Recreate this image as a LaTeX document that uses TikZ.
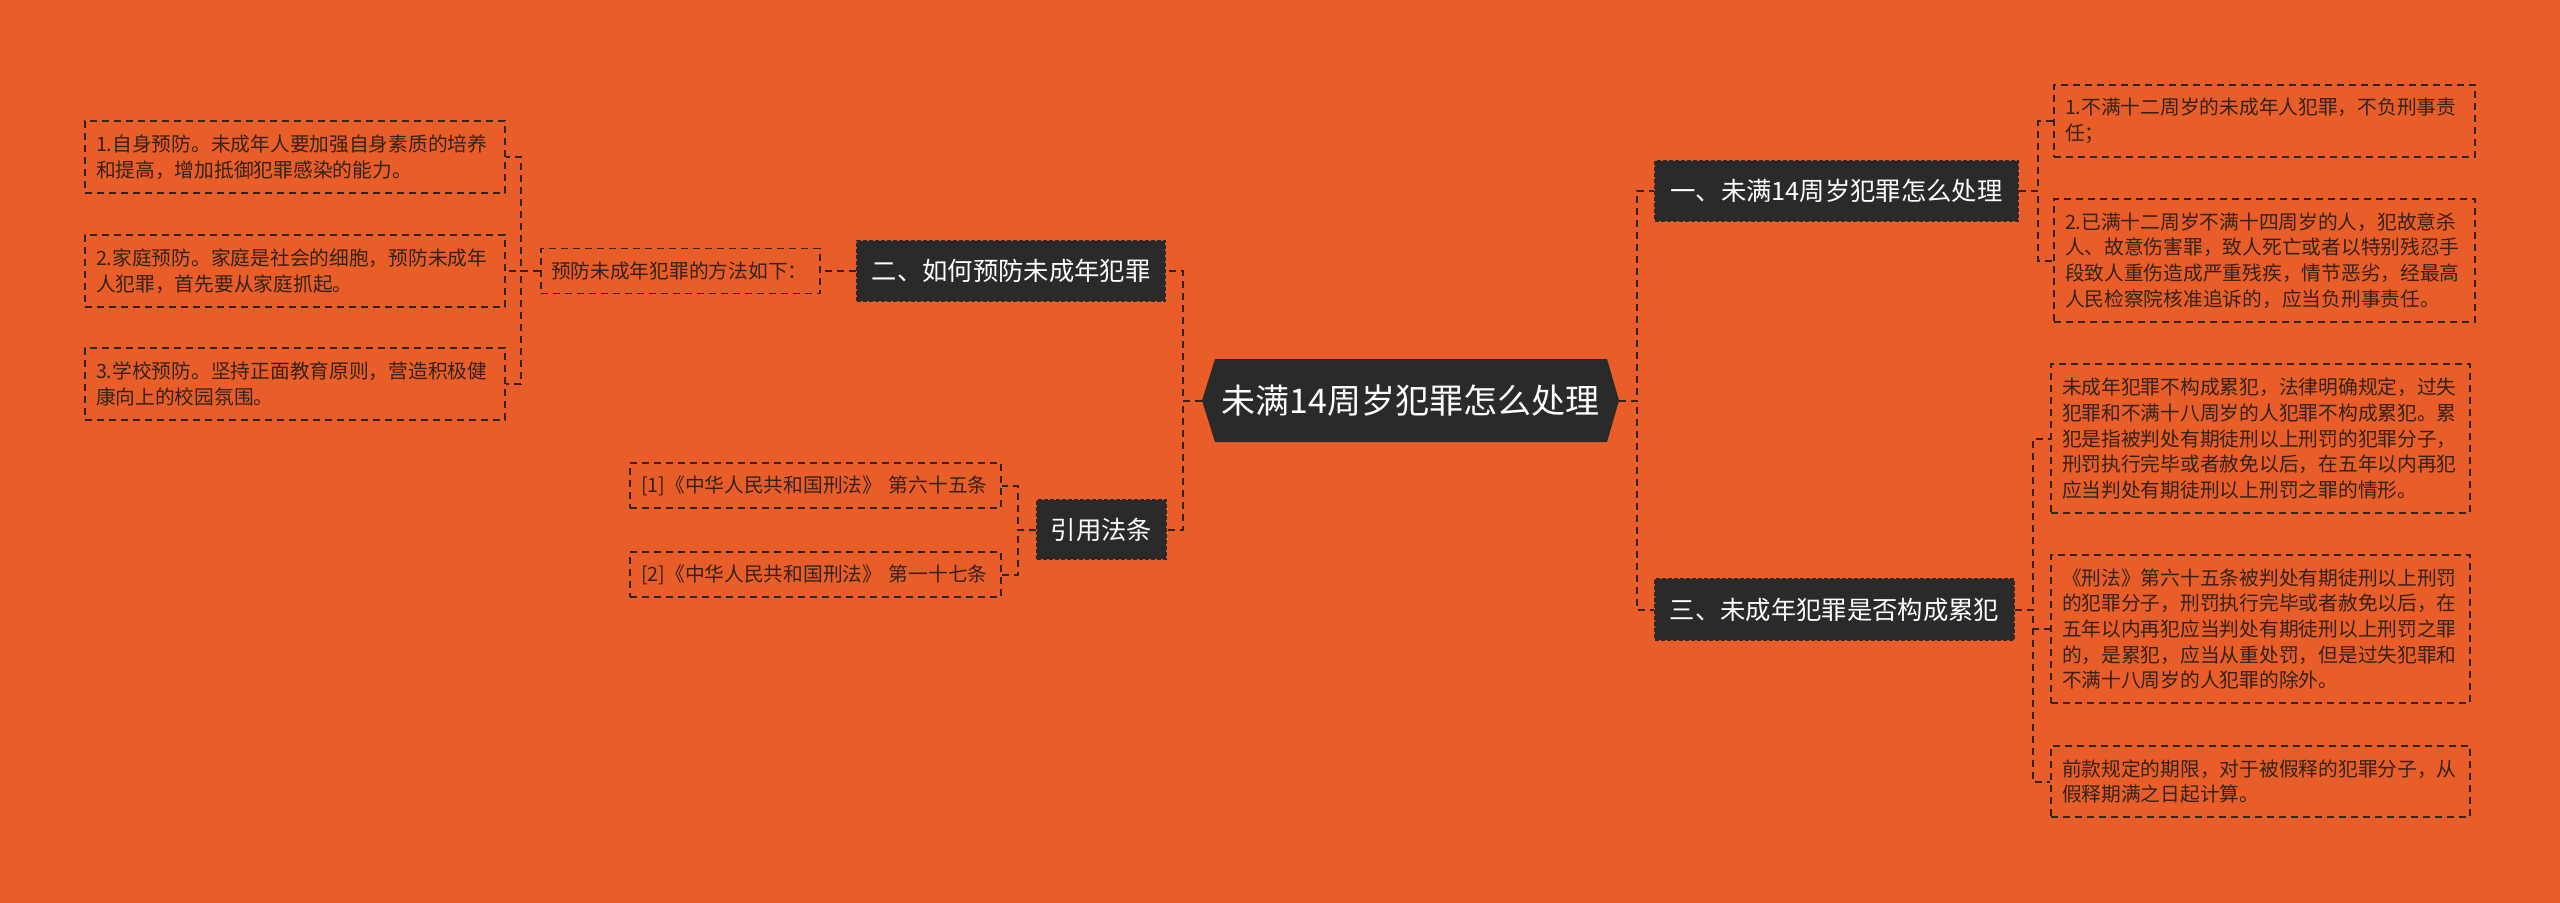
\documentclass[tikz,border=0pt]{standalone}
\usepackage{fontspec}
\setmainfont{Noto Sans CJK SC}
\usetikzlibrary{backgrounds}
\definecolor{bgc}{RGB}{233,94,40}
\definecolor{darkc}{RGB}{42,42,42}
\definecolor{linec}{RGB}{48,36,30}
\definecolor{leaftxt}{RGB}{50,34,27}
\tikzset{
  conn/.style={draw=linec, line width=1.5pt, dash pattern=on 5.25pt off 3.75pt},
  darknode/.style={fill=darkc, draw=darkc, line width=1.5pt, dash pattern=on 3pt off 1.5pt,
    text=white, inner sep=0pt, align=center, font=\fontsize{19pt}{23pt}\selectfont},
  leaf/.style={draw=linec, line width=1.2pt, dash pattern=on 5.25pt off 3.75pt,
    text=leaftxt, inner xsep=8.25pt, inner ysep=0pt, align=left,
    font=\fontsize{14.8pt}{19.3pt}\selectfont},
}
\begin{document}
\begin{tikzpicture}[x=0.75pt,y=-0.75pt]
\useasboundingbox (0,0) rectangle (2560,903);
\coordinate (cl) at (1202,400.5);
\coordinate (cr) at (1619,400.5);
\begin{scope}[on background layer]
  \fill[bgc] (0,0) rectangle (2560,903);
  \fill[darkc] (1215,359) -- (1607,359) -- (cr) -- (1607,442) -- (1215,442) -- (cl) -- cycle;
\end{scope}
% central
\node[inner sep=0pt, minimum width=294pt, minimum height=62.25pt, text=white,
  font=\fontsize{25.5pt}{30pt}\selectfont] (c) at (1410.5,400.5) {未满14周岁犯罪怎么处理};
% main branches
\node[darknode, minimum width=272.25pt, minimum height=45pt] (n1) at (1836.5,190.5) {一、未满14周岁犯罪怎么处理};
\node[darknode, minimum width=269.25pt, minimum height=45.75pt] (n3) at (1834.5,609.5) {三、未成年犯罪是否构成累犯};
\node[darknode, minimum width=231pt, minimum height=45pt] (n2) at (1011,271) {二、如何预防未成年犯罪};
\node[darknode, minimum width=96.75pt, minimum height=44.25pt] (n4) at (1101.5,529.5) {引用法条};
% left leaves
\node[leaf, text width=194.25pt, inner xsep=7.5pt, minimum height=33.75pt] (pre) at (680.5,271) {预防未成年犯罪的方法如下：};
\node[leaf, text width=298.5pt, minimum height=54pt] (l1) at (295,157) {1.自身预防。未成年人要加强自身素质的培养\\和提高，增加抵御犯罪感染的能力。};
\node[leaf, text width=298.5pt, minimum height=54pt] (l2) at (295,271) {2.家庭预防。家庭是社会的细胞，预防未成年\\人犯罪，首先要从家庭抓起。};
\node[leaf, text width=298.5pt, minimum height=54pt] (l3) at (295,384) {3.学校预防。坚持正面教育原则，营造积极健\\康向上的校园氛围。};
\node[leaf, text width=261.75pt, minimum height=33.75pt] (r1) at (815.5,485.5) {[1]《中华人民共和国刑法》 第六十五条};
\node[leaf, text width=261.75pt, minimum height=33.75pt] (r2) at (815.5,574.5) {[2]《中华人民共和国刑法》 第一十七条};
% right leaves
\node[leaf, text width=299.25pt, minimum height=54pt] (a1) at (2264.5,121) {1.不满十二周岁的未成年人犯罪，不负刑事责\\任；};
\node[leaf, text width=299.25pt, minimum height=92.25pt] (a2) at (2264.5,260.5) {2.已满十二周岁不满十四周岁的人，犯故意杀\\人、故意伤害罪，致人死亡或者以特别残忍手\\段致人重伤造成严重残疾，情节恶劣，经最高\\人民检察院核准追诉的，应当负刑事责任。};
\node[leaf, text width=297.75pt, minimum height=111.75pt] (b1) at (2260.5,438.5) {未成年犯罪不构成累犯，法律明确规定，过失\\犯罪和不满十八周岁的人犯罪不构成累犯。累\\犯是指被判处有期徒刑以上刑罚的犯罪分子，\\刑罚执行完毕或者赦免以后，在五年以内再犯\\应当判处有期徒刑以上刑罚之罪的情形。};
\node[leaf, text width=297.75pt, minimum height=111pt] (b2) at (2260.5,629) {《刑法》第六十五条被判处有期徒刑以上刑罚\\的犯罪分子，刑罚执行完毕或者赦免以后，在\\五年以内再犯应当判处有期徒刑以上刑罚之罪\\的，是累犯，应当从重处罚，但是过失犯罪和\\不满十八周岁的人犯罪的除外。};
\node[leaf, text width=297.75pt, minimum height=53.25pt] (b3) at (2260.5,781.5) {前款规定的期限，对于被假释的犯罪分子，从\\假释期满之日起计算。};
% connectors
\draw[conn] (cl) -- ++(-19,0) |- (n2.east);
\draw[conn] (cl) -- ++(-19,0) |- (n4.east);
\draw[conn] (cr) -- ++(18,0) |- (n1.west);
\draw[conn] (cr) -- ++(18,0) |- (n3.west);
\draw[conn] (n1.east) -- ++(19,0) |- (a1.west);
\draw[conn] (n1.east) -- ++(19,0) |- (a2.west);
\draw[conn] (n3.east) -- ++(18,0) |- (b1.west);
\draw[conn] (n3.east) -- ++(18,0) |- (b2.west);
\draw[conn] (n3.east) -- ++(18,0) |- (b3.west);
\draw[conn] (n2.west) -- (pre.east);
\draw[conn] (pre.west) -- ++(-19,0) |- (l1.east);
\draw[conn] (pre.west) -- ++(-19,0) |- (l2.east);
\draw[conn] (pre.west) -- ++(-19,0) |- (l3.east);
\draw[conn] (n4.west) -- ++(-18,0) |- (r1.east);
\draw[conn] (n4.west) -- ++(-18,0) |- (r2.east);
\end{tikzpicture}
\end{document}
